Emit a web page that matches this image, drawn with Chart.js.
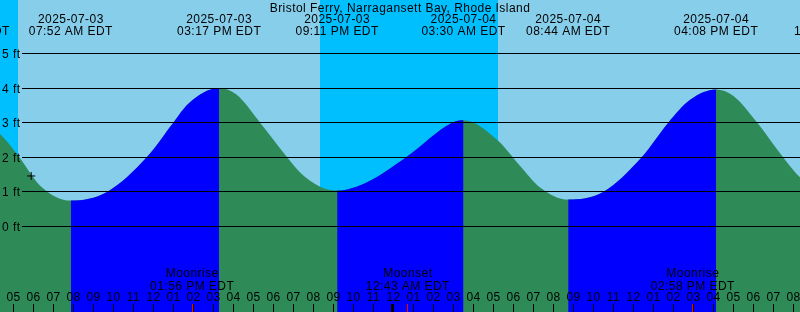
<!DOCTYPE html>
<html>
<head>
<meta charset="utf-8">
<script src="https://cdn.jsdelivr.net/npm/chart.js@4"></script>
<style>
  html, body { margin: 0; padding: 0; background: #fff; }
  #wrap { width: 800px; height: 312px; }
</style>
</head>
<body>
<div id="wrap"><canvas id="tideChart"></canvas></div>
<script>
var stationName = "Bristol Ferry, Narragansett Bay, Rhode Island";

// High / low tides (labels along the top)
var tideDates = ["2025-07-03", "2025-07-03", "2025-07-03", "2025-07-03", "2025-07-04", "2025-07-04", "2025-07-04", "2025-07-04"];
var tideTimes = ["02:43 AM EDT", "07:52 AM EDT", "03:17 PM EDT", "09:11 PM EDT", "03:30 AM EDT", "08:44 AM EDT", "04:08 PM EDT", "10:08 PM EDT"];
var tideFeet = [3.3, 0.75, 4.0, 1.04, 3.07, 0.78, 3.96, 0.75];

// extra water levels read off the curve between the extremes
// (hours after 2025-07-03 00:00, feet)
var curveHours = [4.33, 5.23, 6.33, 9.68, 11.66, 12.99, 13.73, 16.13, 17.33, 18.68, 19.33, 20.33,
                  22.68, 24.63, 26.93, 29.23, 30.33, 31.33, 34.48, 36.41, 37.74, 38.83, 40.98, 42.19, 43.48, 44.33];
var curveFeet = [2.67, 2.05, 1.18, 1.0, 2.0, 3.0, 3.54, 3.82, 3.0, 2.0, 1.56, 1.15,
                 1.28, 2.0, 3.0, 2.48, 1.75, 1.13, 1.0, 2.0, 3.0, 3.66, 3.78, 3.0, 2.0, 1.42];

// day / night
var sunriseDates = ["2025-07-03", "2025-07-04"];
var sunriseTimes = ["05:13 AM EDT", "05:14 AM EDT"];
var sunsetDates = ["2025-07-03", "2025-07-04"];
var sunsetTimes = ["08:20 PM EDT", "08:20 PM EDT"];

// moon events (labels along the bottom)
var moonEvents = ["Moonrise", "Moonset", "Moonrise"];
var moonDates = ["2025-07-03", "2025-07-04", "2025-07-04"];
var moonTimes = ["01:56 PM EDT", "12:43 AM EDT", "02:58 PM EDT"];

// the "+" marker
var markDate = "2025-07-03";
var markTime = "05:53 AM EDT";
var markFeet = 1.46;

var levelTicks = [0, 1, 2, 3, 4, 5];

const DAY_SKY = "#87ceeb";
const NIGHT_SKY = "#00bfff";
const RISING = "#0000ff";
const FALLING = "#2e8b57";
const FONT = '12px "Liberation Sans", Arial, sans-serif';

// hours after 2025-07-03 00:00
function hoursOf(date, time) {
    var day = +date.slice(8, 10) - 3;
    var m = time.match(/(\d+):(\d+) (AM|PM)/);
    var h = (+m[1]) % 12 + (m[3] === "PM" ? 12 : 0);
    return day * 24 + h + (+m[2]) / 60;
}

var tideHours = tideDates.map((d, i) => hoursOf(d, tideTimes[i]));
var curve = tideHours.map((h, i) => ({ x: h, y: tideFeet[i] }))
    .concat(curveHours.map((h, i) => ({ x: h, y: curveFeet[i] })))
    .sort((a, b) => a.x - b.x);

function hourLabel(h) {
    var v = h % 12;
    if (v === 0) v = 12;
    return (v < 10 ? "0" : "") + v;
}

const tideOverlay = {
    id: "tideOverlay",
    beforeDraw(chart) {
        const ctx = chart.ctx;
        const area = chart.chartArea;
        const xs = chart.scales.x;
        ctx.save();
        ctx.fillStyle = DAY_SKY;
        ctx.fillRect(area.left, area.top, area.width, area.height);

        ctx.fillStyle = NIGHT_SKY;
        var rises = sunriseDates.map((d, i) => hoursOf(d, sunriseTimes[i]));
        var sets = sunsetDates.map((d, i) => hoursOf(d, sunsetTimes[i]));
        var nights = [];
        for (let i = 0; i < rises.length; i++) {
            nights.push([i === 0 ? xs.min : sets[i - 1], rises[i]]);
        }
        if (sets.length >= rises.length) nights.push([sets[sets.length - 1], xs.max]);
        nights.forEach(n => {
            const a = Math.round(xs.getPixelForValue(n[0]));
            const b = Math.round(xs.getPixelForValue(n[1]));
            if (b > a) ctx.fillRect(a, area.top, b - a, area.height);
        });
        ctx.restore();
    },
    afterDatasetsDraw(chart) {
        const ctx = chart.ctx;
        const area = chart.chartArea;
        const xs = chart.scales.x;
        const ys = chart.scales.y;
        ctx.save();
        ctx.font = FONT;
        ctx.letterSpacing = "0.45px";
        ctx.fillStyle = "#000";
        ctx.strokeStyle = "#000";
        ctx.lineWidth = 1;

        // level lines and labels
        levelTicks.forEach(v => {
            const y = Math.floor(ys.getPixelForValue(v)) + 0.5;
            ctx.beginPath();
            ctx.moveTo(22, y);
            ctx.lineTo(area.right, y);
            ctx.stroke();
            ctx.textAlign = "left";
            ctx.fillText(v + " ft", 2, y + 4);
        });

        // title
        ctx.textAlign = "center";
        ctx.fillText(stationName, (area.left + area.right) / 2, 12);

        // tide times
        tideHours.forEach((h, i) => {
            const x = xs.getPixelForValue(h);
            ctx.fillText(tideDates[i], x, 22.5);
            ctx.fillText(tideTimes[i], x, 34.5);
        });

        // moon events
        moonEvents.forEach((name, i) => {
            const h = hoursOf(moonDates[i], moonTimes[i]);
            const x = xs.getPixelForValue(h);
            ctx.fillText(name, x, 277);
            ctx.fillText(moonTimes[i], x, 289.5);
            ctx.fillStyle = "#ff0000";
            ctx.fillRect(Math.floor(x), 304, 1, area.bottom - 304);
            ctx.fillStyle = "#000";
        });

        // hour ticks
        for (let h = Math.ceil(xs.min); h <= Math.floor(xs.max); h++) {
            const x = xs.getPixelForValue(h);
            ctx.fillText(hourLabel(h), x, 300.5);
            if (h % 24 === 0) {
                ctx.fillRect(Math.floor(x) - 2, 304, 3, area.bottom - 304);
            } else {
                ctx.fillRect(Math.floor(x), 304, 1, area.bottom - 304);
            }
        }
        ctx.restore();
    }
};

// datasets are drawn last-to-first, so the first one ends up on top
new Chart(document.getElementById("tideChart"), {
    type: "line",
    data: {
        datasets: [{
            type: "scatter",
            data: [{ x: hoursOf(markDate, markTime), y: markFeet }],
            pointStyle: "cross",
            pointRadius: 4,
            borderColor: "#000",
            borderWidth: 1
        }, {
            // rising stretches
            data: curve,
            fill: "start",
            cubicInterpolationMode: "monotone",
            backgroundColor: RISING,
            borderColor: "rgba(0,0,0,0)",
            borderWidth: 0,
            pointRadius: 0,
            segment: {
                backgroundColor: c => c.p1.parsed.y > c.p0.parsed.y ? RISING : "rgba(0,0,0,0)"
            }
        }, {
            // falling water everywhere underneath
            data: curve,
            fill: "start",
            cubicInterpolationMode: "monotone",
            backgroundColor: FALLING,
            borderColor: "rgba(0,0,0,0)",
            borderWidth: 0,
            pointRadius: 0
        }]
    },
    options: {
        animation: false,
        responsive: true,
        maintainAspectRatio: false,
        events: [],
        layout: { padding: 0, autoPadding: false },
        scales: {
            x: { type: "linear", min: 4.325, max: 44.325, display: false },
            y: { min: -2.471, max: 6.546, display: false }
        },
        plugins: {
            legend: { display: false },
            tooltip: { enabled: false }
        }
    },
    plugins: [tideOverlay]
});
</script>
</body>
</html>
